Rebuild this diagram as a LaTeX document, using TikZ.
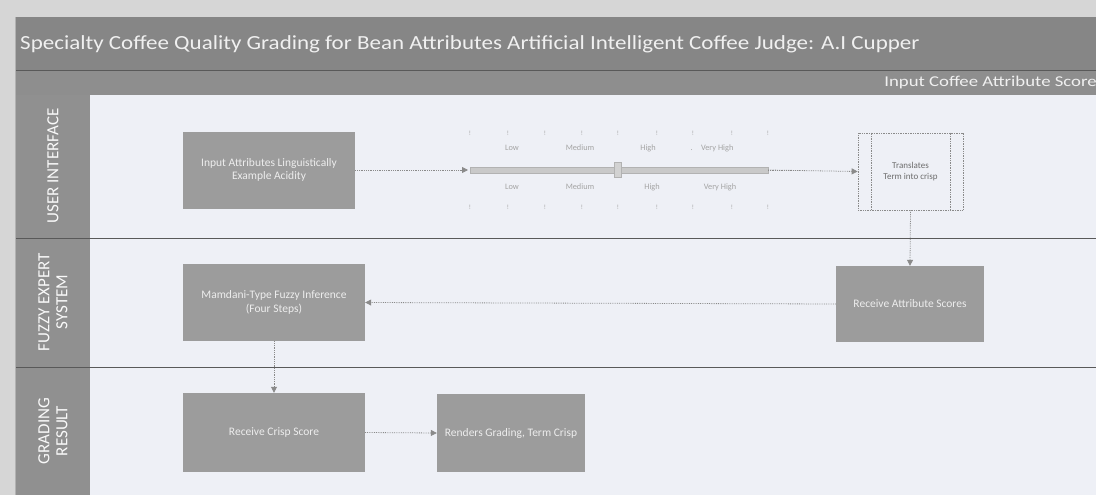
\documentclass[tikz,border=0pt]{standalone}
\usepackage{fontspec}
\setmainfont{Carlito}
\usetikzlibrary{arrows.meta,positioning}
\definecolor{outerbg}{HTML}{D6D6D6}
\definecolor{titlebar}{HTML}{868686}
\definecolor{subbar}{HTML}{8E8E8E}
\definecolor{lanecol}{HTML}{909090}
\definecolor{content}{HTML}{EEF0F6}
\definecolor{boxfill}{HTML}{9C9C9C}
\definecolor{boxtext}{HTML}{EDEDED}
\definecolor{flowline}{HTML}{8A8A8A}
\definecolor{scaletext}{HTML}{A4A4A4}
\tikzset{
  procbox/.style={draw=none, fill=boxfill, text=boxtext, align=center, font=\fontsize{11.5}{13.5}\selectfont, inner sep=0pt},
  flow/.style={draw=flowline, densely dotted, line width=0.8pt, -{Triangle[length=6pt,width=6pt,fill=flowline]}},
  lanelabel/.style={text=white!95!gray, align=center, rotate=90, font=\fontsize{17}{18}\selectfont},
  scalelbl/.style={text=scaletext, font=\fontsize{8.3}{9}\selectfont},
  tick/.style={text=scaletext, font=\fontsize{6.5}{7}\selectfont},
}
\begin{document}
\begin{tikzpicture}[x=1pt,y=-1pt]
\useasboundingbox (0,0) rectangle (1096,495);
% backgrounds
\fill[outerbg] (0,0) rectangle (1096,495);
\fill[titlebar] (15,17) rectangle (1096,70);
\fill[subbar] (15,70) rectangle (1096,95);
\fill[lanecol] (15,95) rectangle (90,495);
\fill[content] (90,95) rectangle (1096,495);
\draw[gray!70!black, line width=0.6pt] (15,70) -- (1096,70);
\draw[gray!70!black, line width=0.6pt] (15,238) -- (1096,238);
\draw[gray!70!black, line width=0.6pt] (15,367) -- (1096,367);
\draw[gray!60, line width=0.8pt] (15,17) -- (15,495);

\node[anchor=west, text=white!88!gray, font=\fontsize{20}{22}\selectfont, transform shape, xscale=1.15, inner sep=0pt] (title) at (20,44) {Specialty Coffee Quality Grading for Bean Attributes Artificial Intelligent Coffee Judge: A.I Cupper};
\node[anchor=east, text=white!88!gray, font=\fontsize{15}{16}\selectfont, transform shape, xscale=1.25, inner sep=0pt] (sub) at (1097,83) {Input Coffee Attribute Score};

\node[lanelabel] (lane1) at (53,166) {USER INTERFACE};
\node[lanelabel] (lane2) at (53,302) {FUZZY EXPERT\\SYSTEM};
\node[lanelabel] (lane3) at (53,431) {GRADING\\RESULT};

% boxes
\node[procbox, minimum width=172pt, minimum height=77pt] (input) at (269,170) {Input Attributes Linguistically\\Example Acidity};
\node[draw=flowline, densely dotted, line width=0.7pt, fill=content, minimum width=105pt, minimum height=77pt, align=center, text=gray!85!black, font=\fontsize{9}{11}\selectfont, inner sep=0pt] (trans) at (910.5,171.5) {Translates\\Term into crisp};
\draw[flowline, densely dotted, line width=0.7pt] ([xshift=14pt]trans.north west) -- ([xshift=14pt]trans.south west);
\draw[flowline, densely dotted, line width=0.7pt] ([xshift=-13pt]trans.north east) -- ([xshift=-13pt]trans.south east);
\node[procbox, minimum width=148pt, minimum height=76pt] (recv) at (910,304) {Receive Attribute Scores};
\node[procbox, minimum width=182pt, minimum height=77pt] (mamd) at (274,302.5) {Mamdani-Type Fuzzy Inference\\(Four Steps)};
\node[procbox, minimum width=182pt, minimum height=79pt] (crisp) at (274,432.5) {Receive Crisp Score};
\node[procbox, minimum width=148pt, minimum height=78pt] (rend) at (511,433) {Renders Grading, Term Crisp};

% scale
\coordinate (barL) at (468,170);
\coordinate (barR) at (768,170);
\fill[gray!42] (470,167) rectangle (768,173);
\draw[gray!60, line width=0.4pt] (470,167) rectangle (768,173);
\node[draw=gray!60, fill=gray!35, minimum width=7pt, minimum height=15pt, inner sep=0pt] (thumb) at (618,170) {};
\draw[flow] (input.east) -- (barL);
\draw[flowline, densely dotted, line width=0.8pt] (barR) -- (800,170);
\draw[flow] (barR) -- (trans.west);
\foreach \x [count=\i] in {470,508,545,582,618,657,693,732,768}{
  \node[tick] (tt\i) at (\x,133) {!};
  \node[tick] (tb\i) at (\x,207) {!};
}
\node[scalelbl] (lt1) at (512,148) {Low};
\node[scalelbl] (lt2) at (580,148) {Medium};
\node[scalelbl] (lt3) at (648,148) {High};
\node[scalelbl] (lt4) at (712,148) {.\quad Very High};
\node[scalelbl] (lb1) at (512,187) {Low};
\node[scalelbl] (lb2) at (580,187) {Medium};
\node[scalelbl] (lb3) at (652,187) {High};
\node[scalelbl] (lb4) at (720,187) {Very High};

% connectors
\draw[flow] (trans.south) -- (recv.north);
\draw[flow] (recv.west) -- (mamd.east);
\draw[flow] (mamd.south) -- (crisp.north);
\draw[flow] (crisp.east) -- (rend.west);
\end{tikzpicture}
\end{document}
